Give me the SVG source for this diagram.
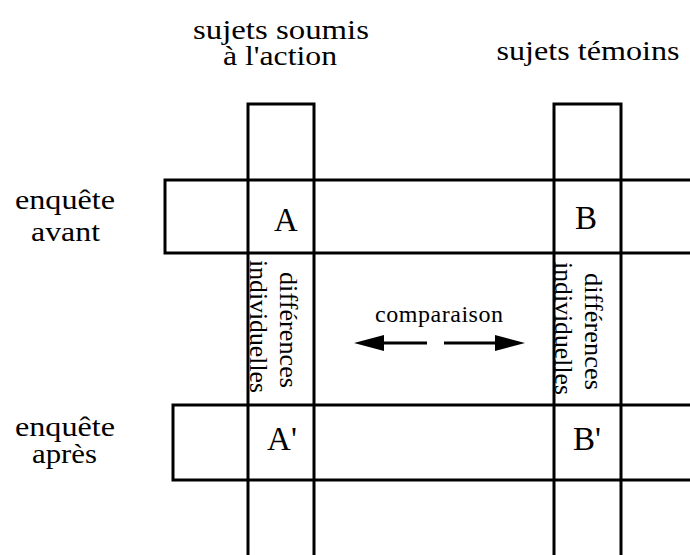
<svg xmlns="http://www.w3.org/2000/svg" width="690" height="555" viewBox="0 0 690 555">
<style>
.ln{fill:none;stroke:#000;stroke-width:3}
.t{font-family:"Liberation Serif","Times New Roman",serif;fill:#000}
.h{font-size:27px}
.v{font-size:25px}
.c{font-size:33px}
</style>
<defs>
<marker id="ah" viewBox="0 0 30 16" refX="0" refY="8" markerWidth="30" markerHeight="16" markerUnits="userSpaceOnUse" orient="auto">
<path d="M0,0 L30,8 L0,16 Z" fill="#000"/>
</marker>
</defs>
<rect width="690" height="555" fill="#fff"/>
<g id="header-action">
<text class="t h" x="281" y="39" text-anchor="middle" textLength="176" lengthAdjust="spacingAndGlyphs">sujets soumis</text>
<text class="t h" x="280" y="65" text-anchor="middle" textLength="114" lengthAdjust="spacingAndGlyphs">à l'action</text>
</g>
<g id="header-temoins">
<text class="t h" x="588" y="60" text-anchor="middle" textLength="183" lengthAdjust="spacingAndGlyphs">sujets témoins</text>
</g>
<g id="col-action">
<path class="ln" d="M248,560 V104 H314 V560"/>
</g>
<g id="col-temoins">
<path class="ln" d="M554,560 V104 H621 V560"/>
</g>
<g id="band-avant">
<path class="ln" d="M695,180 H165 V253 H695"/>
<text class="t h" x="15" y="209" textLength="100" lengthAdjust="spacingAndGlyphs">enquête</text>
<text class="t h" x="31" y="241" textLength="69" lengthAdjust="spacingAndGlyphs">avant</text>
</g>
<g id="band-apres">
<path class="ln" d="M695,405 H173 V480 H695"/>
<text class="t h" x="15" y="436" textLength="100" lengthAdjust="spacingAndGlyphs">enquête</text>
<text class="t h" x="32" y="463" textLength="65" lengthAdjust="spacingAndGlyphs">après</text>
</g>
<g id="cell-A"><text class="t c" x="286" y="231" text-anchor="middle">A</text></g>
<g id="cell-B"><text class="t c" x="586" y="229" text-anchor="middle">B</text></g>
<g id="cell-A2"><text class="t c" x="282" y="450" text-anchor="middle">A'</text></g>
<g id="cell-B2"><text class="t c" x="587" y="450" text-anchor="middle">B'</text></g>
<g id="diff-action">
<text class="t v" transform="translate(280,272) rotate(90)" textLength="116" lengthAdjust="spacingAndGlyphs">différences</text>
<text class="t v" transform="translate(250,260) rotate(90)" textLength="133" lengthAdjust="spacingAndGlyphs">individuelles</text>
</g>
<g id="diff-temoins">
<text class="t v" transform="translate(585,273) rotate(90)" textLength="117" lengthAdjust="spacingAndGlyphs">différences</text>
<text class="t v" transform="translate(555,262) rotate(90)" textLength="133" lengthAdjust="spacingAndGlyphs">individuelles</text>
</g>
<g id="comparaison">
<text class="t" x="375" y="322" font-size="24" textLength="128" lengthAdjust="spacing">comparaison</text>
</g>
<g id="connectors">
<line class="ln" x1="427" y1="343" x2="384" y2="343" marker-end="url(#ah)"/>
<line class="ln" x1="444" y1="343" x2="495" y2="343" marker-end="url(#ah)"/>
</g>
</svg>
